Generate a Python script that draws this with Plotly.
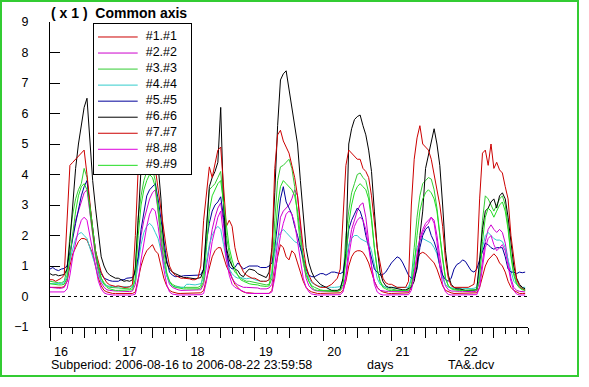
import numpy as np
import plotly.graph_objects as go

# ---------------- data ----------------
day_ticks = [16, 17, 18, 19, 20, 21, 22]
day_labels = ["16", "17", "18", "19", "20", "21", "22"]
x_range = [16, 23]
y_ticks = [-1, 0, 1, 2, 3, 4, 5, 6, 7, 8, 9]
y_range = [-1, 9]

names = ["#1.#1", "#2.#2", "#3.#3", "#4.#4", "#5.#5", "#6.#6", "#7.#7", "#8.#8", "#9.#9"]
colors = ["#cc0000", "#cc00cc", "#33cc33", "#33cccc", "#000099", "#000000", "#cc0000", "#dd00dd", "#22dd22"]

# hourly values, one row per day (16 .. 22)
s1 = [
    0.3, 0.3, 0.28, 0.28, 0.3, 0.32, 0.5, 1.0, 1.4, 1.6, 1.8, 1.9, 1.9, 1.85, 1.6, 1.4, 1.0, 0.6, 0.35, 0.2, 0.15, 0.12, 0.1, 0.1,
    0.1, 0.1, 0.1, 0.1, 0.1, 0.1, 0.15, 0.6, 1.0, 1.3, 1.5, 1.6, 1.7, 1.5, 1.4, 1.0, 0.6, 0.35, 0.2, 0.15, 0.12, 0.1, 0.1, 0.1,
    0.1, 0.1, 0.1, 0.1, 0.1, 0.12, 0.2, 0.6, 1.0, 1.3, 1.5, 1.6, 1.6, 1.3, 1.0, 0.8, 0.6, 0.4, 0.3, 0.2, 0.15, 0.12, 0.12, 0.1,
    0.1, 0.1, 0.1, 0.1, 0.1, 0.1, 0.2, 0.8, 1.3, 1.7, 1.6, 1.3, 1.2, 1.5, 1.4, 1.1, 0.8, 0.5, 0.3, 0.2, 0.15, 0.12, 0.1, 0.1,
    0.1, 0.1, 0.1, 0.1, 0.1, 0.1, 0.12, 0.2, 0.5, 1.0, 1.3, 1.45, 1.5, 1.5, 1.45, 1.3, 1.1, 0.8, 0.5, 0.3, 0.2, 0.15, 0.12, 0.1,
    0.1, 0.1, 0.1, 0.1, 0.1, 0.1, 0.12, 0.3, 0.8, 1.2, 1.4, 1.45, 1.4, 1.3, 1.2, 1.1, 0.9, 0.6, 0.35, 0.2, 0.15, 0.12, 0.1, 0.1,
    0.1, 0.1, 0.1, 0.1, 0.1, 0.1, 0.12, 0.3, 0.7, 1.0, 1.2, 1.3, 1.4, 1.3, 1.1, 1.0, 0.8, 0.5, 0.3, 0.2, 0.15, 0.1, 0.1, 0.1,
]
s2 = [
    0.3, 0.28, 0.28, 0.27, 0.27, 0.3, 0.5, 1.2, 2.0, 2.5, 2.8, 3.1, 3.4, 3.5, 2.7, 1.9, 1.3, 0.8, 0.45, 0.3, 0.22, 0.2, 0.18, 0.18,
    0.18, 0.17, 0.17, 0.16, 0.16, 0.18, 0.4, 1.2, 2.0, 2.5, 2.9, 3.2, 3.4, 3.5, 2.8, 1.9, 1.2, 0.7, 0.4, 0.3, 0.25, 0.22, 0.2, 0.2,
    0.2, 0.2, 0.2, 0.2, 0.2, 0.22, 0.4, 1.0, 1.7, 2.2, 2.6, 2.9, 3.07, 2.4, 1.4, 0.9, 0.6, 0.45, 0.38, 0.35, 0.3, 0.3, 0.3, 0.3,
    0.3, 0.28, 0.25, 0.25, 0.25, 0.28, 0.4, 1.0, 1.8, 2.6, 2.8, 2.9, 3.0, 3.2, 3.5, 3.3, 2.2, 1.2, 0.6, 0.35, 0.25, 0.2, 0.18, 0.18,
    0.18, 0.17, 0.17, 0.17, 0.17, 0.17, 0.2, 0.3, 0.7, 1.6, 2.2, 2.5, 2.8, 3.0, 3.07, 2.6, 1.8, 1.0, 0.5, 0.3, 0.2, 0.18, 0.17, 0.17,
    0.17, 0.17, 0.16, 0.16, 0.16, 0.16, 0.17, 0.3, 0.8, 1.4, 1.8, 2.1, 2.3, 2.4, 2.6, 2.5, 2.0, 1.3, 0.7, 0.35, 0.22, 0.18, 0.17, 0.17,
    0.17, 0.17, 0.16, 0.16, 0.16, 0.16, 0.18, 0.5, 1.2, 1.8, 2.2, 2.35, 2.2, 2.1, 2.2, 2.1, 1.75, 1.2, 0.6, 0.3, 0.2, 0.17, 0.16, 0.15,
]
s3 = [
    0.5, 0.48, 0.45, 0.45, 0.45, 0.5, 0.9, 2.0, 2.7, 3.2, 3.5, 3.7, 4.2, 3.9, 2.8, 2.0, 1.4, 0.9, 0.6, 0.45, 0.35, 0.3, 0.3, 0.28,
    0.28, 0.27, 0.26, 0.25, 0.25, 0.3, 1.0, 2.6, 3.3, 3.8, 4.1, 4.3, 4.2, 3.8, 2.8, 1.8, 1.1, 0.7, 0.5, 0.4, 0.35, 0.32, 0.3, 0.3,
    0.3, 0.3, 0.3, 0.3, 0.3, 0.35, 0.8, 2.2, 3.5, 3.6, 3.7, 3.9, 4.1, 3.0, 2.0, 1.4, 1.0, 0.8, 0.7, 0.6, 0.55, 0.5, 0.5, 0.48,
    0.45, 0.42, 0.4, 0.38, 0.38, 0.4, 0.8, 2.5, 3.8, 4.25, 4.3, 4.4, 4.5, 4.2, 3.6, 2.6, 1.7, 1.1, 0.7, 0.5, 0.35, 0.3, 0.25, 0.22,
    0.2, 0.2, 0.2, 0.18, 0.18, 0.18, 0.2, 0.6, 2.0, 2.8, 3.4, 3.7, 4.0, 4.05, 3.9, 3.8, 3.4, 2.6, 1.6, 0.9, 0.5, 0.35, 0.3, 0.25,
    0.25, 0.22, 0.2, 0.2, 0.2, 0.2, 0.25, 0.6, 1.6, 2.6, 3.3, 3.7, 3.8, 3.9, 3.85, 3.5, 2.9, 2.0, 1.2, 0.6, 0.35, 0.28, 0.25, 0.22,
    0.22, 0.2, 0.2, 0.2, 0.2, 0.2, 0.25, 1.0, 2.5, 3.3, 3.2, 3.0, 2.8, 3.0, 3.2, 3.3, 3.0, 2.3, 1.4, 0.8, 0.45, 0.3, 0.25, 0.22,
]
s4 = [
    0.42, 0.42, 0.4, 0.4, 0.42, 0.45, 0.7, 1.2, 1.6, 1.9, 2.05, 2.1, 2.0, 1.9, 1.6, 1.3, 1.0, 0.7, 0.5, 0.4, 0.35, 0.33, 0.32, 0.32,
    0.32, 0.3, 0.3, 0.3, 0.3, 0.32, 0.5, 1.1, 1.7, 2.1, 2.3, 2.4, 2.3, 2.1, 1.9, 1.5, 1.1, 0.7, 0.45, 0.35, 0.32, 0.3, 0.3, 0.3,
    0.4, 0.4, 0.38, 0.38, 0.4, 0.42, 0.6, 1.2, 1.7, 2.0, 2.2, 2.3, 2.2, 1.7, 1.2, 0.9, 0.75, 0.65, 0.6, 0.62, 0.6, 0.58, 0.6, 0.6,
    0.55, 0.52, 0.5, 0.5, 0.5, 0.55, 0.8, 1.4, 1.9, 2.1, 2.2, 2.1, 2.0, 1.9, 1.8, 1.75, 1.6, 1.3, 0.9, 0.6, 0.45, 0.4, 0.35, 0.33,
    0.32, 0.3, 0.3, 0.3, 0.3, 0.3, 0.32, 0.5, 1.2, 1.7, 1.9, 2.0, 2.0, 1.9, 1.85, 1.8, 1.75, 1.5, 1.0, 0.6, 0.4, 0.35, 0.3, 0.3,
    0.3, 0.3, 0.3, 0.28, 0.28, 0.28, 0.3, 0.6, 1.2, 1.6, 1.8, 1.9, 1.85, 1.8, 1.75, 1.6, 1.4, 1.0, 0.6, 0.4, 0.3, 0.28, 0.27, 0.27,
    0.27, 0.27, 0.26, 0.26, 0.26, 0.27, 0.3, 0.9, 1.6, 2.0, 2.1, 2.0, 1.9, 1.85, 1.85, 1.8, 1.6, 1.2, 0.8, 0.5, 0.4, 0.35, 0.3, 0.3,
]
s5 = [
    0.9, 0.95, 0.88, 0.85, 0.9, 0.92, 1.0, 1.4, 1.9, 2.4, 2.9, 3.3, 3.6, 3.8, 3.0, 2.2, 1.5, 1.0, 0.75, 0.6, 0.55, 0.52, 0.5, 0.5,
    0.5, 0.55, 0.55, 0.6, 0.6, 0.62, 0.8, 1.3, 2.2, 2.8, 3.3, 3.5, 3.6, 3.7, 3.2, 2.5, 1.8, 1.2, 0.8, 0.7, 0.65, 0.65, 0.66, 0.68,
    0.68, 0.68, 0.7, 0.7, 0.7, 0.72, 0.9, 1.8, 2.4, 2.8, 3.0, 3.1, 3.27, 2.6, 1.5, 1.0, 0.9, 0.95, 1.1, 1.0, 0.9, 0.95, 1.0, 1.0,
    1.0, 1.0, 0.95, 0.95, 0.95, 1.0, 1.1, 1.6, 2.4, 3.2, 3.6, 3.1, 2.9, 2.7, 2.3, 2.0, 1.6, 1.2, 0.9, 0.7, 0.65, 0.65, 0.7, 0.75,
    0.75, 0.7, 0.75, 0.8, 0.8, 0.78, 0.75, 0.8, 1.4, 2.2, 2.5, 2.7, 2.9, 2.8, 2.5, 2.0, 1.6, 1.2, 0.9, 0.8, 0.7, 0.72, 0.8, 0.95,
    1.1, 1.2, 1.3, 1.25, 1.1, 0.9, 0.7, 0.6, 0.6, 0.9, 1.6, 2.0, 2.2, 2.3, 2.0, 1.8, 1.5, 1.0, 0.7, 0.55, 0.5, 0.6, 0.9, 1.05,
    1.1, 1.2, 1.15, 1.0, 0.85, 0.8, 0.9, 1.2, 1.5, 1.75, 1.7, 1.6, 1.55, 1.6, 1.6, 1.6, 1.3, 0.9, 0.8, 0.8, 0.75, 0.8, 0.78, 0.8,
]
s6 = [
    0.75, 0.7, 0.72, 0.68, 0.7, 0.72, 0.9, 1.8, 3.0, 4.2, 5.0, 5.6, 6.2, 6.5, 5.0, 3.8, 2.9, 2.0, 1.3, 1.0, 0.8, 0.7, 0.65, 0.6,
    0.6, 0.55, 0.5, 0.52, 0.5, 0.55, 0.9, 2.5, 4.2, 5.0, 5.5, 5.8, 6.0, 5.4, 4.4, 3.2, 1.6, 1.1, 0.9, 0.8, 0.75, 0.7, 0.65, 0.62,
    0.62, 0.6, 0.6, 0.58, 0.6, 0.62, 0.9, 2.3, 3.6, 3.9, 4.1, 4.4, 6.2, 3.0, 1.6, 1.2, 1.0, 0.9, 0.85, 0.7, 0.65, 0.8, 0.9, 0.88,
    0.85, 0.75, 0.7, 0.65, 0.62, 0.8, 1.6, 3.4, 5.6, 7.1, 7.3, 7.4, 6.8, 6.2, 5.6, 5.0, 3.8, 2.8, 1.6, 1.1, 0.8, 0.6, 0.5, 0.4,
    0.35, 0.3, 0.25, 0.2, 0.2, 0.2, 0.25, 0.6, 1.4, 5.0, 5.5, 5.8, 5.9, 5.95, 5.6, 5.3, 4.8, 4.1, 2.8, 1.6, 0.8, 0.5, 0.35, 0.3,
    0.3, 0.28, 0.25, 0.25, 0.22, 0.22, 0.25, 0.3, 0.5, 1.0, 2.0, 2.8, 4.2, 4.6, 5.0, 5.5, 5.0, 4.3, 3.0, 1.5, 0.7, 0.4, 0.3, 0.25,
    0.25, 0.22, 0.2, 0.2, 0.2, 0.2, 0.22, 1.2, 2.2, 2.8, 2.9, 3.1, 3.2, 2.9, 3.3, 3.4, 3.2, 2.6, 1.8, 1.0, 0.6, 0.4, 0.3, 0.25,
]
s7 = [
    0.55, 0.55, 0.5, 0.55, 0.6, 0.7, 2.5, 4.3, 4.4, 4.5, 4.6, 4.7, 4.8, 4.0, 3.0, 2.2, 1.5, 1.1, 0.8, 0.6, 0.45, 0.38, 0.35, 0.33,
    0.35, 0.32, 0.3, 0.3, 0.32, 0.4, 2.0, 4.2, 4.6, 4.8, 5.0, 5.1, 4.8, 4.2, 3.5, 2.8, 2.2, 1.5, 1.0, 0.8, 0.7, 0.65, 0.6, 0.6,
    0.6, 0.58, 0.55, 0.55, 0.6, 1.0, 2.5, 3.4, 4.25, 3.9, 4.3, 4.8, 4.9, 3.4, 2.3, 2.5, 2.3, 1.6, 1.2, 1.0, 0.8, 0.7, 0.65, 0.6,
    0.6, 0.55, 0.5, 0.5, 0.5, 0.55, 1.5, 4.2, 5.3, 5.45, 5.1, 4.9, 4.7, 4.3, 3.9, 3.3, 2.4, 1.6, 1.0, 0.7, 0.5, 0.4, 0.35, 0.3,
    0.3, 0.3, 0.35, 0.4, 0.5, 0.6, 0.9, 2.5, 4.3, 4.8, 4.7, 4.6, 4.5, 4.5, 4.2, 4.1, 3.9, 3.3, 2.5, 1.6, 1.1, 0.6, 0.45, 0.4,
    0.4, 0.35, 0.3, 0.3, 0.3, 0.3, 0.5, 3.0, 4.5, 5.2, 5.6, 5.0, 4.9, 4.8, 4.5, 4.0, 3.6, 3.0, 2.3, 1.2, 0.6, 0.35, 0.3, 0.3,
    0.3, 0.3, 0.3, 0.3, 0.35, 0.4, 1.0, 3.2, 4.7, 4.8, 4.3, 5.0, 4.2, 4.4, 4.15, 4.05, 3.6, 3.2, 2.0, 1.2, 0.55, 0.35, 0.25, 0.2,
]
s8 = [
    0.15, 0.15, 0.14, 0.14, 0.14, 0.15, 0.25, 0.7, 1.3, 1.8, 2.2, 2.5, 2.6, 2.5, 2.0, 1.4, 0.9, 0.5, 0.25, 0.12, 0.08, 0.06, 0.05, 0.05,
    0.05, 0.05, 0.05, 0.05, 0.05, 0.05, 0.08, 0.5, 1.2, 1.8, 2.3, 2.7, 2.9, 2.8, 2.3, 1.6, 0.9, 0.4, 0.15, 0.08, 0.06, 0.05, 0.05, 0.05,
    0.05, 0.05, 0.05, 0.05, 0.05, 0.06, 0.1, 0.5, 1.2, 1.8, 2.2, 2.6, 2.8, 2.0, 1.2, 0.7, 0.4, 0.3, 0.25, 0.2, 0.15, 0.12, 0.1, 0.1,
    0.1, 0.1, 0.1, 0.1, 0.1, 0.1, 0.15, 0.6, 1.4, 2.0, 2.4, 2.7, 2.8, 2.7, 2.4, 1.8, 1.1, 0.6, 0.3, 0.15, 0.08, 0.06, 0.05, 0.05,
    0.05, 0.05, 0.05, 0.05, 0.05, 0.05, 0.06, 0.15, 0.6, 1.3, 1.9, 2.3, 2.5, 2.6, 2.5, 2.2, 1.6, 0.9, 0.4, 0.15, 0.08, 0.05, 0.05, 0.05,
    0.05, 0.05, 0.05, 0.05, 0.05, 0.05, 0.06, 0.2, 0.7, 1.4, 1.9, 2.2, 2.4, 2.5, 2.6, 2.4, 1.8, 1.0, 0.4, 0.15, 0.07, 0.05, 0.05, 0.05,
    0.05, 0.05, 0.05, 0.05, 0.05, 0.05, 0.06, 0.3, 1.0, 1.6, 1.9, 2.0, 1.7, 1.5, 1.6, 1.7, 1.5, 1.0, 0.5, 0.2, 0.08, 0.05, 0.05, 0.05,
]
s9 = [
    0.42, 0.4, 0.4, 0.38, 0.38, 0.4, 0.6, 1.4, 2.2, 2.8, 3.3, 3.6, 3.7, 3.5, 3.0, 2.2, 1.5, 1.0, 0.6, 0.4, 0.3, 0.25, 0.22, 0.2,
    0.2, 0.2, 0.2, 0.2, 0.2, 0.22, 0.6, 2.0, 3.0, 3.5, 3.8, 4.0, 3.9, 3.6, 3.0, 2.2, 1.4, 0.8, 0.5, 0.35, 0.3, 0.28, 0.25, 0.25,
    0.25, 0.25, 0.25, 0.25, 0.25, 0.28, 0.5, 1.6, 2.8, 3.3, 3.5, 3.7, 3.8, 3.0, 2.2, 1.6, 1.2, 0.9, 0.7, 0.55, 0.5, 0.45, 0.42, 0.4,
    0.4, 0.38, 0.35, 0.33, 0.33, 0.35, 0.6, 1.8, 3.0, 3.6, 3.8, 3.7, 3.6, 3.5, 3.3, 2.8, 2.0, 1.3, 0.8, 0.5, 0.3, 0.22, 0.2, 0.2,
    0.18, 0.18, 0.17, 0.17, 0.17, 0.17, 0.2, 0.4, 1.2, 2.4, 3.0, 3.4, 3.6, 3.7, 3.6, 3.5, 3.2, 2.5, 1.6, 0.9, 0.5, 0.3, 0.25, 0.2,
    0.2, 0.2, 0.2, 0.18, 0.18, 0.18, 0.2, 0.4, 1.0, 2.0, 2.8, 3.2, 3.4, 3.5, 3.4, 3.2, 2.8, 2.0, 1.2, 0.6, 0.35, 0.25, 0.22, 0.2,
    0.2, 0.2, 0.2, 0.2, 0.2, 0.2, 0.22, 0.6, 1.8, 2.6, 2.9, 2.8, 2.6, 2.8, 3.0, 3.1, 2.8, 2.2, 1.3, 0.7, 0.4, 0.28, 0.22, 0.2,
]
series = [s1, s2, s3, s4, s5, s6, s7, s8, s9]

# time axis: hourly samples from day 16 00:00
t = x_range[0] + np.arange(len(s1)) / 24.0

FONT = "Liberation Sans, Arial, sans-serif"

# ---------------- figure geometry (pixels) ----------------
W, H = 589, 387
ML, MR, MT, MB = 50, 61, 22, 60
PW = W - ML - MR
PH = H - MT - MB


def px_x(x):
    return (x - ML) / PW


def px_y(y):
    return (H - MB - y) / PH


fig = go.Figure()

for name, color, vals in zip(names, colors, series):
    fig.add_trace(go.Scatter(
        x=t, y=vals, mode="lines", name=name,
        line=dict(color=color, width=1), showlegend=False, hoverinfo="skip"))

# empty trace so the noon-tick axis is drawn
fig.add_trace(go.Scatter(x=[], y=[], xaxis="x2", yaxis="y", showlegend=False))

# ---------- custom legend box (own small subplot) ----------
leg_w = 97.3
for i, (name, color) in enumerate(zip(names, colors)):
    fig.add_trace(go.Scatter(
        x=[4.3, 44], y=[i, i], mode="lines", line=dict(color=color, width=1),
        xaxis="x3", yaxis="y3", showlegend=False, hoverinfo="skip"))
fig.add_trace(go.Scatter(
    x=[52] * len(names), y=list(range(len(names))), mode="text", text=names,
    textposition="middle right", textfont=dict(family=FONT, size=12.5, color="black"),
    xaxis="x3", yaxis="y3", showlegend=False, hoverinfo="skip"))

fig.update_layout(
    width=W, height=H,
    margin=dict(l=ML, r=MR, t=MT, b=MB, pad=0),
    paper_bgcolor="white", plot_bgcolor="white",
    showlegend=False,
    font=dict(family=FONT, size=12.5, color="black"),
    xaxis=dict(
        range=x_range, tickmode="array", tickvals=day_ticks, ticktext=day_labels,
        ticks="outside", ticklen=13, tickwidth=1, tickcolor="black",
        ticklabelshift=11, ticklabelstandoff=0,
        showline=True, linecolor="black", linewidth=1,
        showgrid=False, zeroline=False,
        minor=dict(tickmode="linear", tick0=x_range[0], dtick=1 / 6, ticks="outside",
                   ticklen=6, tickwidth=1, tickcolor="black", showgrid=False),
        tickfont=dict(family=FONT, size=12.5, color="black"),
    ),
    xaxis2=dict(
        overlaying="x", anchor="y", side="bottom", range=x_range,
        tickmode="array", tickvals=[d + 0.5 for d in day_ticks],
        ticks="outside", ticklen=10, tickwidth=1, tickcolor="black",
        showticklabels=False, showline=False, showgrid=False, zeroline=False,
    ),
    yaxis=dict(
        range=y_range, tickmode="array", tickvals=y_ticks,
        ticks="inside", ticklen=10, tickwidth=1, tickcolor="black",
        ticklabelstandoff=18,
        showline=True, linecolor="black", linewidth=1,
        showgrid=False, zeroline=False,
        tickfont=dict(family=FONT, size=12.5, color="black"),
    ),
    xaxis3=dict(
        domain=[px_x(93.7), px_x(191)], range=[0, leg_w], anchor="y3",
        showline=True, mirror=True, linecolor="black", linewidth=1,
        ticks="", showticklabels=False, showgrid=False, zeroline=False, fixedrange=True,
    ),
    yaxis3=dict(
        domain=[px_y(174), px_y(24)], range=[8.54, -0.81], anchor="x3",
        showline=True, mirror=True, linecolor="black", linewidth=1,
        ticks="", showticklabels=False, showgrid=False, zeroline=False, fixedrange=True,
    ),
)

# dotted zero line
fig.add_shape(type="line", xref="x", yref="y", x0=x_range[0], x1=x_range[1], y0=0, y1=0,
              line=dict(color="black", width=1, dash="3px,3px"), layer="below")

# green frame around the picture
fig.add_shape(type="rect", xref="paper", yref="paper",
              x0=px_x(1), x1=px_x(578), y0=px_y(376), y1=px_y(1),
              line=dict(color="#33cc33", width=2), fillcolor="rgba(0,0,0,0)")

fig.add_annotation(xref="paper", yref="paper", x=px_x(49), y=px_y(13),
                   xanchor="left", yanchor="middle", showarrow=False,
                   text="<b>(\u00a0x\u00a01\u00a0)\u00a0\u00a0Common axis</b>",
                   font=dict(family=FONT, size=14, color="black"))
fig.add_annotation(xref="paper", yref="paper", x=px_x(49), y=px_y(365),
                   xanchor="left", yanchor="middle", showarrow=False,
                   text="Subperiod: 2006-08-16 to 2006-08-22 23:59:58",
                   font=dict(family=FONT, size=12.5, color="black"))
fig.add_annotation(xref="paper", yref="paper", x=px_x(380), y=px_y(365),
                   xanchor="center", yanchor="middle", showarrow=False,
                   text="days", font=dict(family=FONT, size=12.5, color="black"))
fig.add_annotation(xref="paper", yref="paper", x=px_x(471), y=px_y(365),
                   xanchor="center", yanchor="middle", showarrow=False,
                   text="TA&amp;.dcv", font=dict(family=FONT, size=12.5, color="black"))

fig.write_html("out.html", config={"displayModeBar": False, "staticPlot": True},
               post_script="document.body.style.margin='0';")
